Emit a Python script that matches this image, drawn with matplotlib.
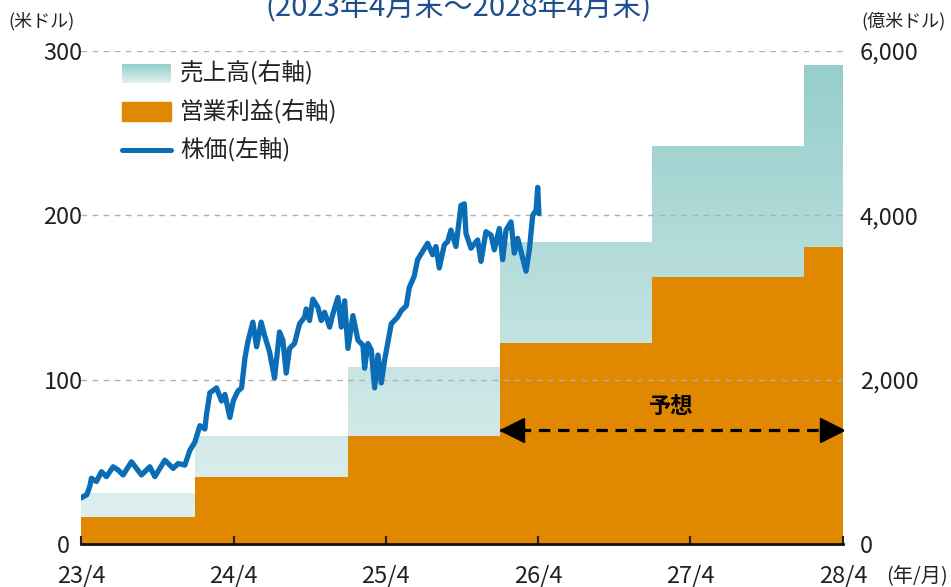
import numpy as np
import matplotlib
matplotlib.use('Agg')
import matplotlib.pyplot as plt
import matplotlib.dates as mdates
import matplotlib.transforms as mtransforms
from matplotlib.colors import LinearSegmentedColormap

plt.rcParams['font.family'] = ['Noto Sans CJK JP', 'DejaVu Sans']

# 決算期の区切り（各年1月末）と売上高・営業利益（億米ドル）
period_edges = ['2023-04-30', '2024-01-28', '2025-01-28', '2026-01-28',
                '2027-01-28', '2028-01-28', '2028-04-30']
revenue = [617, 1315, 2158, 3680, 4848, 5830]
op_profit = [332, 819, 1315, 2443, 3254, 3619]
forecast_start = '2026-01-28'

# 株価（米ドル）
price_dates = [
    '2023-04-30', '2023-05-14', '2023-05-21', '2023-05-25', '2023-06-06', '2023-06-18',
    '2023-06-30', '2023-07-16', '2023-07-28', '2023-08-09', '2023-08-29', '2023-09-22',
    '2023-10-12', '2023-10-24', '2023-11-17', '2023-12-07', '2023-12-19', '2024-01-04',
    '2024-01-16', '2024-01-28', '2024-02-09', '2024-02-21', '2024-02-25', '2024-03-04',
    '2024-03-20', '2024-04-01', '2024-04-09', '2024-04-21', '2024-04-29', '2024-05-10',
    '2024-05-19', '2024-05-27', '2024-06-03', '2024-06-15', '2024-06-24', '2024-07-05',
    '2024-07-13', '2024-07-25', '2024-08-06', '2024-08-18', '2024-08-26', '2024-09-03',
    '2024-09-11', '2024-09-23', '2024-10-05', '2024-10-17', '2024-10-21', '2024-10-29',
    '2024-11-06', '2024-11-18', '2024-11-26', '2024-12-04', '2024-12-16', '2024-12-24',
    '2025-01-05', '2025-01-13', '2025-01-21', '2025-01-29', '2025-02-10', '2025-02-22',
    '2025-03-06', '2025-03-10', '2025-03-18', '2025-03-26', '2025-04-03', '2025-04-11',
    '2025-04-19', '2025-04-27', '2025-05-13', '2025-05-28', '2025-06-06', '2025-06-18',
    '2025-06-25', '2025-07-07', '2025-07-15', '2025-07-27', '2025-08-08', '2025-08-20',
    '2025-08-28', '2025-09-05', '2025-09-17', '2025-09-25', '2025-10-03', '2025-10-15',
    '2025-10-27', '2025-11-04', '2025-11-08', '2025-11-20', '2025-12-06', '2025-12-14',
    '2025-12-26', '2026-01-07', '2026-01-15', '2026-01-27', '2026-02-04', '2026-02-12',
    '2026-02-24', '2026-03-04', '2026-03-12', '2026-03-20', '2026-04-01', '2026-04-09',
    '2026-04-17', '2026-04-25', '2026-04-29', '2026-05-02',
]
price = [
    28, 30, 35, 40, 38, 44,
    41, 47, 45, 42, 50, 42,
    47, 41, 51, 46, 49, 48,
    57, 62, 72, 70, 79, 92,
    95, 87, 91, 77, 87, 93,
    95, 113, 123, 135, 120, 135,
    127, 117, 101, 129, 124, 104,
    119, 122, 134, 138, 143, 136,
    149, 144, 136, 141, 132, 140,
    150, 132, 148, 119, 139, 124,
    121, 107, 122, 118, 95, 115,
    98, 112, 134, 138, 142, 145,
    156, 163, 173, 178, 183, 176,
    181, 168, 182, 184, 191, 181,
    206, 207, 189, 180, 185, 172,
    190, 188, 179, 192, 173, 191,
    196, 177, 186, 178, 166, 179,
    200, 203, 217, 201,
]

x_tick_dates = ['2023-04-30', '2024-04-30', '2025-04-30', '2026-04-30', '2027-04-30', '2028-04-30']
x_tick_labels = ['23/4', '24/4', '25/4', '26/4', '27/4', '28/4']
left_ticks = [0, 100, 200, 300]
right_ticks = [0, 2000, 4000, 6000]

orange = '#e08900'
blue = '#0a6db5'
teal_cmap = LinearSegmentedColormap.from_list('teal', ['#e3f2f1', '#93cdca'])

W, H = 951, 587


def fx(x):
    return x / W


def fy(y):
    return 1 - y / H


fig = plt.figure(figsize=(W / 100, H / 100), dpi=100)
ax = fig.add_axes([fx(81), fy(544), (843 - 81) / W, (544 - 51) / H])
ax2 = ax.twinx()
ax.set_zorder(ax2.get_zorder() + 1)
ax.patch.set_visible(False)

edges = mdates.datestr2num(period_edges)

# 売上高（グラデーション）
rev_patch = ax2.stairs(revenue, edges, fill=True, facecolor='none', linewidth=0)
grad = np.linspace(0, 1, 256).reshape(-1, 1)
im = ax2.imshow(grad, extent=[edges[0], edges[-1], 0, 6000], origin='lower',
                aspect='auto', cmap=teal_cmap, zorder=1)
im.set_clip_path(rev_patch)

# 営業利益
ax2.stairs(op_profit, edges, fill=True, color=orange, linewidth=0, zorder=2)

# グリッド
for v in left_ticks[1:]:
    ax.axhline(v, color='#b0b0b0', lw=1, ls=(0, (4, 4)), zorder=1)

# 株価
ax.plot(mdates.datestr2num(price_dates), price, color=blue, lw=3.8,
        solid_joinstyle='round', solid_capstyle='round', zorder=3)

# 予想の矢印
xs = mdates.datestr2num(forecast_start)
xe = edges[-1]
ya = 69.5
ax.plot([xs, xe], [ya, ya], color='black', lw=2.3, ls=(0, (3.6, 2.4)), zorder=4)
ax.plot([xs], [ya], marker='<', ms=17, color='black', zorder=5,
        transform=mtransforms.offset_copy(ax.transData, fig, x=9, units='points'))
ax.plot([xe], [ya], marker='>', ms=17, color='black', zorder=5,
        transform=mtransforms.offset_copy(ax.transData, fig, x=-8, units='points'))
ax.annotate('予想', xy=((xs + xe) / 2, ya), xytext=(0, 17), textcoords='offset points',
            ha='center', va='center', fontsize=16, fontweight='bold', color='black')

# 軸
ax.set_xlim(mdates.datestr2num(x_tick_dates[0]), mdates.datestr2num(x_tick_dates[-1]))
ax.set_ylim(0, 300)
ax2.set_ylim(0, 6000)

ax.set_xticks(mdates.datestr2num(x_tick_dates))
ax.set_xticklabels(x_tick_labels)
ax.tick_params(axis='x', direction='in', length=6, width=1.5, pad=15,
               labelsize=17, color='#222222', labelcolor='#222222')

ax.set_yticks(left_ticks)
ax.set_yticklabels([str(v) for v in left_ticks], ha='center')
ax.tick_params(axis='y', length=0, pad=13, labelsize=17, labelcolor='#222222')

ax2.set_yticks(right_ticks)
ax2.set_yticklabels([f'{v:,}' for v in right_ticks])
ax2.tick_params(axis='y', length=0, pad=12, labelsize=17, labelcolor='#222222')

for s in ['top', 'left', 'right']:
    ax.spines[s].set_visible(False)
for s in ax2.spines.values():
    s.set_visible(False)
ax.spines['bottom'].set_linewidth(2)
ax.spines['bottom'].set_color('#111111')
ax.spines['bottom'].set_zorder(6)

# 単位・タイトル
fig.text(fx(8), fy(21), '(米ドル)', fontsize=13, color='#222222', ha='left', va='center')
fig.text(fx(946), fy(21), '(億米ドル)', fontsize=13, color='#222222', ha='right', va='center')
fig.text(fx(948), fy(577), '(年/月)', fontsize=14.5, color='#222222', ha='right', va='center')
fig.text(fx(458), fy(16), '(2023年4月末～2028年4月末)', fontsize=21, color='#1f4e8c',
         ha='center', va='baseline')

# 凡例
lg = fig.add_axes([fx(122), fy(83), 49 / W, 19 / H])
lg.imshow(grad, origin='lower', aspect='auto', cmap=teal_cmap)
lg.axis('off')
fig.patches.append(plt.Rectangle((fx(122), fy(121)), 49 / W, 19 / H, color=orange,
                                 transform=fig.transFigure, figure=fig))
fig.add_artist(plt.Line2D([fx(122), fx(171)], [fy(150), fy(150)], color=blue, lw=3.6,
                          solid_capstyle='round', transform=fig.transFigure))
for yy, label in [(72, '売上高(右軸)'), (111, '営業利益(右軸)'), (149, '株価(左軸)')]:
    fig.text(fx(180), fy(yy), label, fontsize=17, color='#222222', ha='left', va='center')

fig.savefig('out.png', dpi=100)
